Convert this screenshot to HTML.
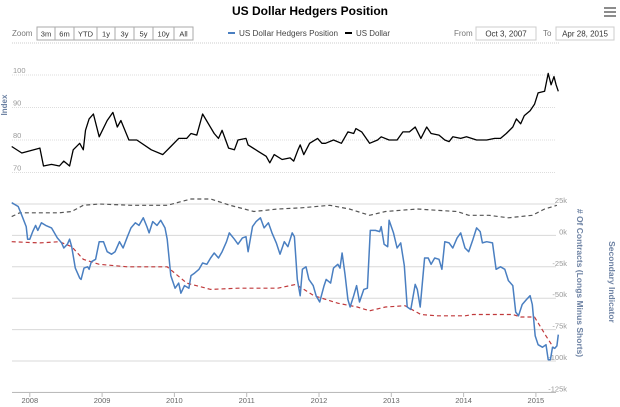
<!DOCTYPE html>
<html><head><meta charset="utf-8"><style>
html,body{margin:0;padding:0;background:#fff;width:620px;height:407px;overflow:hidden;font-family:"Liberation Sans",sans-serif}
</style></head><body>
<svg width="620" height="407" xmlns="http://www.w3.org/2000/svg" font-family="Liberation Sans, sans-serif">
<text x="310" y="15" text-anchor="middle" font-size="12" font-weight="bold" fill="#000">US Dollar Hedgers Position</text>
<g stroke="#666" stroke-width="1.5"><line x1="604" y1="8" x2="616" y2="8"/><line x1="604" y1="12" x2="616" y2="12"/><line x1="604" y1="16" x2="616" y2="16"/></g>
<text x="12" y="36" font-size="8" fill="#777">Zoom</text>
<g id="zoombtns" font-size="7.5" fill="#333"></g>
<g font-size="8" fill="#444">
<line x1="228" y1="33" x2="235" y2="33" stroke="#4a7fc1" stroke-width="2"/><text x="239" y="36" textLength="99" lengthAdjust="spacingAndGlyphs">US Dollar Hedgers Position</text>
<line x1="345" y1="33" x2="352" y2="33" stroke="#000" stroke-width="2"/><text x="356" y="36" textLength="34" lengthAdjust="spacingAndGlyphs">US Dollar</text>
</g>
<text x="454" y="36" font-size="8" fill="#777">From</text>
<rect x="476" y="27" width="60" height="13" fill="#fff" stroke="#ccc"/>
<text x="506" y="36.5" font-size="8" text-anchor="middle" fill="#333">Oct 3, 2007</text>
<text x="543" y="36" font-size="8" fill="#777">To</text>
<rect x="556" y="27" width="58" height="13" fill="#fff" stroke="#ccc"/>
<text x="585" y="36.5" font-size="8" text-anchor="middle" fill="#333">Apr 28, 2015</text>
<line x1="12" y1="43" x2="560" y2="43" stroke="#ccc" stroke-dasharray="1,1"/>
<text transform="translate(7,105) rotate(-90)" font-size="8" font-weight="bold" fill="#6d82a3" text-anchor="middle">Index</text>
<text transform="translate(577,283) rotate(90)" font-size="8.5" font-weight="bold" fill="#6d82a3" text-anchor="middle"># Of Contracts (Longs Minus Shorts)</text>
<text transform="translate(609,282) rotate(90)" font-size="8.5" font-weight="bold" fill="#6d82a3" text-anchor="middle">Secondary Indicator</text>
<g id="grid"></g>
<g id="series"></g>
</svg>
<script>
const zoomButtons=["3m","6m","YTD","1y","3y","5y","10y","All"];
const topTicks=[100,90,80,70];
const botTicks=[25,0,-25,-50,-75,-100,-125];
const years=[2008,2009,2010,2011,2012,2013,2014,2015];
const usdDates=[2007.75,2007.89,2008.14,2008.19,2008.30,2008.41,2008.47,2008.55,2008.60,2008.69,2008.74,2008.77,2008.82,2008.88,2008.96,2009.07,2009.15,2009.21,2009.26,2009.37,2009.48,2009.68,2009.84,2009.95,2010.06,2010.17,2010.23,2010.31,2010.39,2010.55,2010.61,2010.66,2010.75,2010.83,2010.88,2010.99,2011.02,2011.16,2011.27,2011.32,2011.38,2011.49,2011.60,2011.65,2011.71,2011.74,2011.79,2011.87,2011.98,2012.04,2012.09,2012.20,2012.31,2012.40,2012.48,2012.51,2012.59,2012.70,2012.81,2012.86,2012.97,2013.08,2013.16,2013.25,2013.33,2013.41,2013.49,2013.55,2013.66,2013.74,2013.80,2013.85,2013.96,2014.04,2014.18,2014.32,2014.43,2014.51,2014.59,2014.68,2014.73,2014.79,2014.84,2014.92,2014.98,2015.03,2015.12,2015.17,2015.21,2015.25,2015.28,2015.31];
const usdValues=[78,76,77.5,72,72.5,72,73.5,72,77,79,77,83,86.5,88,81,86,88.5,84,86,80,80,77,75.5,78,80.5,80.5,82,81.5,88,82,80.5,83,77.5,77,80,80.5,78.5,76.5,75,73,75.5,74,74.5,73.5,77,78.5,75.5,79,80.5,79,79,80,79,82.5,82,83.5,82.5,79,80,81,80,80,82.5,82.5,84,80.5,84,82,81.5,80,79.5,81,80.5,81,80,80,80.5,80.5,82,84,86.5,85,87.5,89,91,94.5,95,100.5,97,99.5,97,95];
const hedgeDates=[2007.75,2007.84,2007.89,2007.95,2007.97,2008.00,2008.04,2008.08,2008.11,2008.16,2008.22,2008.30,2008.33,2008.38,2008.44,2008.47,2008.52,2008.55,2008.58,2008.63,2008.69,2008.71,2008.75,2008.80,2008.82,2008.85,2008.91,2008.96,2009.02,2009.07,2009.13,2009.18,2009.24,2009.29,2009.35,2009.40,2009.46,2009.51,2009.57,2009.62,2009.65,2009.70,2009.76,2009.81,2009.87,2009.90,2009.95,2010.01,2010.06,2010.09,2010.14,2010.20,2010.23,2010.28,2010.34,2010.39,2010.45,2010.50,2010.55,2010.61,2010.66,2010.72,2010.76,2010.83,2010.88,2010.94,2010.99,2011.02,2011.08,2011.13,2011.19,2011.24,2011.30,2011.35,2011.41,2011.46,2011.52,2011.57,2011.63,2011.66,2011.70,2011.74,2011.77,2011.82,2011.86,2011.92,2011.96,2012.01,2012.07,2012.10,2012.16,2012.20,2012.26,2012.29,2012.32,2012.36,2012.40,2012.43,2012.48,2012.52,2012.56,2012.62,2012.67,2012.71,2012.78,2012.84,2012.86,2012.90,2012.95,2012.97,2013.03,2013.08,2013.13,2013.18,2013.22,2013.27,2013.33,2013.36,2013.40,2013.46,2013.51,2013.55,2013.60,2013.66,2013.70,2013.74,2013.80,2013.85,2013.91,2013.96,2014.02,2014.07,2014.13,2014.18,2014.23,2014.26,2014.32,2014.40,2014.45,2014.51,2014.57,2014.62,2014.68,2014.72,2014.76,2014.81,2014.87,2014.92,2014.95,2014.99,2015.03,2015.09,2015.14,2015.17,2015.20,2015.23,2015.26,2015.29,2015.31];
const hedgeValues=[26,23,16,7,-3,-3,3,8,4,10,8,6,3,-2,-6,-10,-7,-3,-9,-26,-34,-35,-26,-25,-27,-21,-19,-5,-5,-13,-15,-13,-5,-10,-1,6,10,8,14,7,2,11,8,12,6,-3,-32,-42,-38,-46,-40,-42,-32,-30,-27,-22,-23,-18,-14,-18,-13,-5,2,-3,-7,-2,-1,-13,7,11,14,6,10,2,-6,-15,-5,-9,2,-1,-35,-48,-27,-25,-35,-40,-48,-53,-40,-35,-38,-26,-23,-26,-14,-31,-51,-57,-48,-40,-53,-43,-42,4,4,3,7,-7,-9,12,2,-10,-6,-24,-57,-59,-39,-43,-57,-18,-18,-23,-18,-19,-27,-5,-6,-10,-2,2,-10,-13,-3,6,3,-6,-5,-6,-27,-25,-27,-36,-40,-61,-64,-55,-51,-48,-55,-80,-87,-89,-87,-99,-99,-89,-90,-88,-79];
const lowerDates=[2007.75,2008.14,2008.41,2008.58,2008.74,2008.96,2009.35,2009.90,2010.17,2010.50,2010.88,2011.43,2011.68,2011.93,2012.26,2012.53,2012.70,2012.92,2013.19,2013.41,2013.63,2014.02,2014.13,2014.68,2014.79,2014.98,2015.14,2015.25];
const lowerValues=[-5,-6,-5,-9,-19,-23,-25,-25,-38,-43,-42,-42,-39,-48,-54,-57,-60,-57,-56,-63,-64,-64,-63,-63,-65,-65,-80,-90];
const upperDates=[2007.75,2007.86,2008.41,2008.58,2008.74,2008.96,2009.40,2009.90,2010.23,2010.50,2010.77,2011.10,2011.43,2011.76,2012.15,2012.42,2012.70,2012.92,2013.36,2013.63,2013.91,2014.07,2014.35,2014.62,2014.95,2015.12,2015.29];
const upperValues=[15,18,18,19,24,25,24,24,29,29,24,19,21,22,24,21,16,19,21,20,19,16,16,14,16,21,24];

const NS="http://www.w3.org/2000/svg";
function mk(tag,attrs,parent){const e=document.createElementNS(NS,tag);for(const k in attrs)e.setAttribute(k,attrs[k]);parent.appendChild(e);return e;}
const xs=d=>29.8+(d-2008)*72.3;
const yTop=v=>75+(100-v)*3.25;
const yBot=v=>204+(25-v)*1.256;
const L=12,R=556;
const zb=document.getElementById('zoombtns');
const bw=[18,19,23,18,19,19,21,19];let bx=37;
zoomButtons.forEach((b,i)=>{
 const r=mk('rect',{x:bx,y:27,width:bw[i],height:13,fill:'#fff',stroke:'#aaa'},zb);
 
 
 const t=mk('text',{x:bx+bw[i]/2,y:36.5,'text-anchor':'middle'},zb);t.textContent=b;
 
 
 bx+=bw[i];
});
const g=document.getElementById('grid');
topTicks.forEach(v=>{
 const l=mk('line',{x1:L,x2:R,y1:yTop(v),y2:yTop(v),stroke:'#ddd','stroke-dasharray':'1,1'},g);
 
 
 const t=mk('text',{x:13,y:yTop(v)-2,'font-size':7.5,fill:'#999'},g);t.textContent=v;
 
 
});
botTicks.forEach(v=>{
 const l=mk('line',{x1:L,x2:R,y1:yBot(v),y2:yBot(v),stroke:'#d8d8d8'},g);
 
 
 const t=mk('text',{x:567,y:yBot(v)-1,'font-size':7.5,fill:'#999','text-anchor':'end'},g);t.textContent=v+'k';
 
 
});
mk('line',{x1:L,x2:R,y1:392.5,y2:392.5,stroke:'#bbb'},g);
years.forEach(y=>{
 const x=xs(y);
 const tk=mk('line',{x1:x,x2:x,y1:392.5,y2:397,stroke:'#bbb'},g);
 
 
 const t=mk('text',{x:x,y:403,'font-size':7.5,fill:'#666','text-anchor':'middle'},g);t.textContent=y;
 
 
});
const s=document.getElementById('series');
function pts(ds,vs,fy){return ds.map((d,i)=>xs(d).toFixed(1)+','+fy(vs[i]).toFixed(1)).join(' ');}
const up=mk('polyline',{points:pts(upperDates,upperValues,yBot),fill:'none',stroke:'#555','stroke-width':1.2,'stroke-dasharray':'4,3'},s);


const lo=mk('polyline',{points:pts(lowerDates,lowerValues,yBot),fill:'none',stroke:'#c0393b','stroke-width':1.2,'stroke-dasharray':'4,3'},s);


const hl=mk('polyline',{points:pts(hedgeDates,hedgeValues,yBot),fill:'none',stroke:'#4a7fc1','stroke-width':1.5,'stroke-linejoin':'round'},s);


const ul=mk('polyline',{points:pts(usdDates,usdValues,yTop),fill:'none',stroke:'#000','stroke-width':1.3,'stroke-linejoin':'round'},s);


</script>
</body></html>
